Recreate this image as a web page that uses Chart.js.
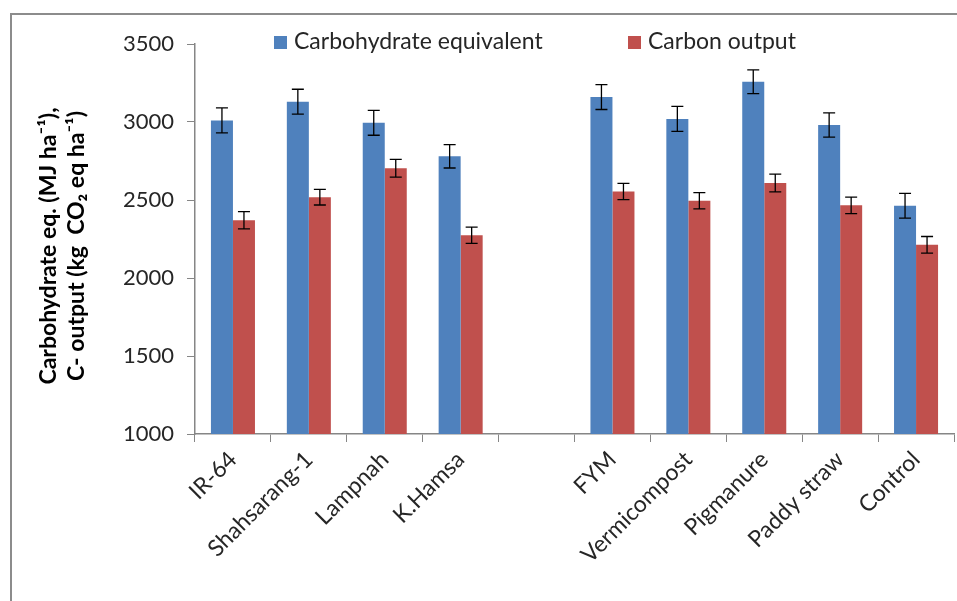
<!DOCTYPE html>
<html>
<head>
<meta charset="utf-8">
<script src="https://cdn.jsdelivr.net/npm/chart.js@4"></script>
<style>
  body { margin: 0; background: #fff; }
</style>
</head>
<body>
<canvas id="chart" width="957" height="601"></canvas>
<script>
const categories = ['IR-64', 'Shahsarang-1', 'Lampnah', 'K.Hamsa', '', 'FYM', 'Vermicompost', 'Pigmanure', 'Paddy straw', 'Control'];
const carbohydrate = [3010, 3130, 2995, 2780, null, 3160, 3020, 3258, 2981, 2463];
const carbohydrateErr = [80, 80, 80, 75, null, 80, 80, 76, 78, 79];
const carbon = [2370, 2518, 2703, 2274, null, 2555, 2495, 2609, 2466, 2213];
const carbonErr = [55, 50, 57, 52, null, 52, 52, 57, 53, 53];
const yTicks = [1000, 1500, 2000, 2500, 3000, 3500];

const FONT = 'Lato';

// frame + white background
const framePlugin = {
    id: 'frame',
    beforeDraw(chart) {
        const ctx = chart.ctx;
        ctx.save();
        ctx.fillStyle = '#fff';
        ctx.fillRect(0, 0, chart.width, chart.height);
        ctx.strokeStyle = '#8c8c8c';
        ctx.lineWidth = 2;
        ctx.strokeRect(11, 14, 1000, 1000);
        ctx.restore();
    }
};

// error bars drawn from each dataset's errors
const errorBars = {
    id: 'errorBars',
    afterDatasetsDraw(chart) {
        const ctx = chart.ctx;
        const y = chart.scales.y;
        ctx.save();
        ctx.strokeStyle = '#000';
        ctx.lineWidth = 1.3;
        chart.data.datasets.forEach((ds, di) => {
            const meta = chart.getDatasetMeta(di);
            ds.data.forEach((v, i) => {
                const e = ds.errors[i];
                if (v == null || e == null) return;
                const x = meta.data[i].x;
                const top = y.getPixelForValue(v + e);
                const bot = y.getPixelForValue(v - e);
                ctx.beginPath();
                ctx.moveTo(x, top); ctx.lineTo(x, bot);
                ctx.moveTo(x - 6, top); ctx.lineTo(x + 6, top);
                ctx.moveTo(x - 6, bot); ctx.lineTo(x + 6, bot);
                ctx.stroke();
            });
        });
        ctx.restore();
    }
};

// legend and y title
const extras = {
    id: 'extras',
    afterDraw(chart) {
        const ctx = chart.ctx;
        ctx.save();
        ctx.font = '23px ' + FONT;
        ctx.textBaseline = 'middle';
        const legendX = [274, 628];
        chart.data.datasets.forEach((ds, i) => {
            ctx.fillStyle = ds.backgroundColor;
            ctx.fillRect(legendX[i], 36, 13, 13);
            ctx.fillStyle = '#262626';
            ctx.fillText(ds.label, legendX[i] + 20, 42);
        });

        ctx.translate(0, 246);
        ctx.rotate(-Math.PI / 2);
        ctx.font = 'bold 23px ' + FONT;
        ctx.textAlign = 'center';
        ctx.fillStyle = '#000';
        ctx.fillText('Carbohydrate eq. (MJ ha\u207B\u00B9),', 0, 49);
        ctx.fillText('C- output (kg  CO\u2082 eq ha\u207B\u00B9)', 0, 77);
        ctx.restore();
    }
};

new Chart(document.getElementById('chart'), {
    type: 'bar',
    data: {
        labels: categories,
        datasets: [
            {
                label: 'Carbohydrate equivalent',
                data: carbohydrate,
                errors: carbohydrateErr,
                backgroundColor: '#4F81BD'
            },
            {
                label: 'Carbon output',
                data: carbon,
                errors: carbonErr,
                backgroundColor: '#C0504D'
            }
        ]
    },
    options: {
        responsive: false,
        animation: false,
        datasets: {
            bar: { categoryPercentage: 0.58, barPercentage: 1 }
        },
        layout: { padding: { left: 0, top: 44, right: 3, bottom: 0 } },
        plugins: {
            legend: { display: false },
            tooltip: { enabled: false }
        },
        scales: {
            x: {
                afterFit(scale) { scale.height = 167; },
                grid: { drawOnChartArea: false, color: '#868686', tickLength: 8 },
                border: { color: '#868686', width: 1.5 },
                ticks: {
                    color: '#262626',
                    font: { family: FONT, size: 23 },
                    minRotation: 45,
                    maxRotation: 45,
                    padding: 4
                }
            },
            y: {
                min: 1000,
                max: 3500,
                afterFit(scale) { scale.width = 195; },
                afterBuildTicks(scale) { scale.ticks = yTicks.map(v => ({ value: v })); },
                grid: { drawOnChartArea: false, color: '#868686', tickLength: 8 },
                border: { color: '#868686', width: 1.5 },
                ticks: {
                    color: '#262626',
                    font: { family: FONT, size: 22 },
                    padding: 13,
                    callback: v => String(v)
                }
            }
        }
    },
    plugins: [framePlugin, errorBars, extras]
});
</script>
</body>
</html>
